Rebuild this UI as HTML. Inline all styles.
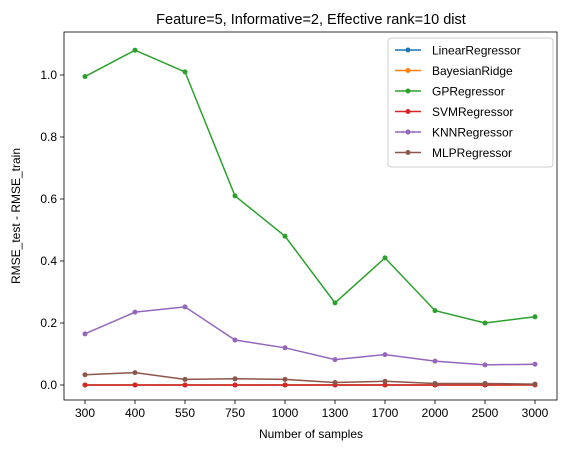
<!DOCTYPE html>
<html><head><meta charset="utf-8"><style>
body{margin:0;background:#fff;font-family:"Liberation Sans","DejaVu Sans",sans-serif;}
</style></head><body>
<svg id="c" width="567" height="455" xmlns="http://www.w3.org/2000/svg">
<rect width="567" height="455" fill="#fff"/>
<text x="311" y="24" font-size="14.5" text-anchor="middle">Feature=5, Informative=2, Effective rank=10 dist</text>
<g id="plot"></g>
<text x="311" y="438" font-size="12" text-anchor="middle">Number of samples</text>
<text transform="translate(20,216) rotate(-90)" font-size="12" text-anchor="middle">RMSE_test - RMSE_train</text>
</svg>
<script>
const categories=["300","400","550","750","1000","1300","1700","2000","2500","3000"];
const yTicks=[0.0,0.2,0.4,0.6,0.8,1.0];
const seriesNames=["LinearRegressor","BayesianRidge","GPRegressor","SVMRegressor","KNNRegressor","MLPRegressor"];
const colors=["#1f77b4","#ff7f0e","#2ca02c","#d62728","#9467bd","#8c564b"];
const linear=[0,0,0,0,0,0,0,0,0,0];
const bayes=[0,0,0,0,0,0,0,0,0,0];
const gp=[0.995,1.08,1.01,0.61,0.48,0.265,0.41,0.24,0.2,0.22];
const svm=[0,0,0,0,0,0,0,0,0,0.001];
const knn=[0.165,0.235,0.252,0.145,0.12,0.082,0.098,0.077,0.065,0.067];
const mlp=[0.033,0.04,0.018,0.02,0.018,0.008,0.012,0.005,0.005,0.003];
const series=[linear,bayes,gp,svm,knn,mlp];
const L=64,R=557,T=32,B=400;
const x=i=>85+i*(535-85)/(categories.length-1);
const y=v=>385-v*310;
const NS="http://www.w3.org/2000/svg";
const g=document.getElementById('plot');
function mk(t,a){const e=document.createElementNS(NS,t);for(const k in a)e.setAttribute(k,a[k]);g.appendChild(e);return e;}
categories.forEach((c,i)=>{
 const t=mk('line',{x1:x(i),x2:x(i),y1:B,y2:B+4,stroke:'#000','stroke-width':0.8});
 
 
 const l=mk('text',{x:x(i),y:B+17,'font-size':12,'text-anchor':'middle'});l.textContent=c;
 
 
});
yTicks.forEach(v=>{
 const t=mk('line',{x1:L-4,x2:L,y1:y(v),y2:y(v),stroke:'#000','stroke-width':0.8});
 
 
 const l=mk('text',{x:L-7,y:y(v)+4,'font-size':12,'text-anchor':'end'});l.textContent=v.toFixed(1);
 
 
});
series.forEach((s,si)=>{
 const p=mk('polyline',{points:s.map((v,i)=>x(i)+','+y(v)).join(' '),fill:'none',stroke:colors[si],'stroke-width':1.5});
 
 
 s.forEach((v,i)=>{const c=mk('circle',{cx:x(i),cy:y(v),r:2.5,fill:colors[si]});
  
  });
});
const fr=mk('rect',{x:L,y:T,width:R-L,height:B-T,fill:'none',stroke:'#000','stroke-width':0.8});


const lg=mk('rect',{x:388,y:38,width:165,height:129,fill:'#fff','fill-opacity':0.8,stroke:'#ccc',rx:3});


seriesNames.forEach((n,i)=>{
 const yy=50+i*20.5;
 const ln=mk('line',{x1:395,x2:421,y1:yy,y2:yy,stroke:colors[i],'stroke-width':1.5});
 
 
 const c=mk('circle',{cx:408,cy:yy,r:2.5,fill:colors[i]});
 
 
 const t=mk('text',{x:432,y:yy+4.5,'font-size':12});t.textContent=n;
 
 
});
</script>
</body></html>
